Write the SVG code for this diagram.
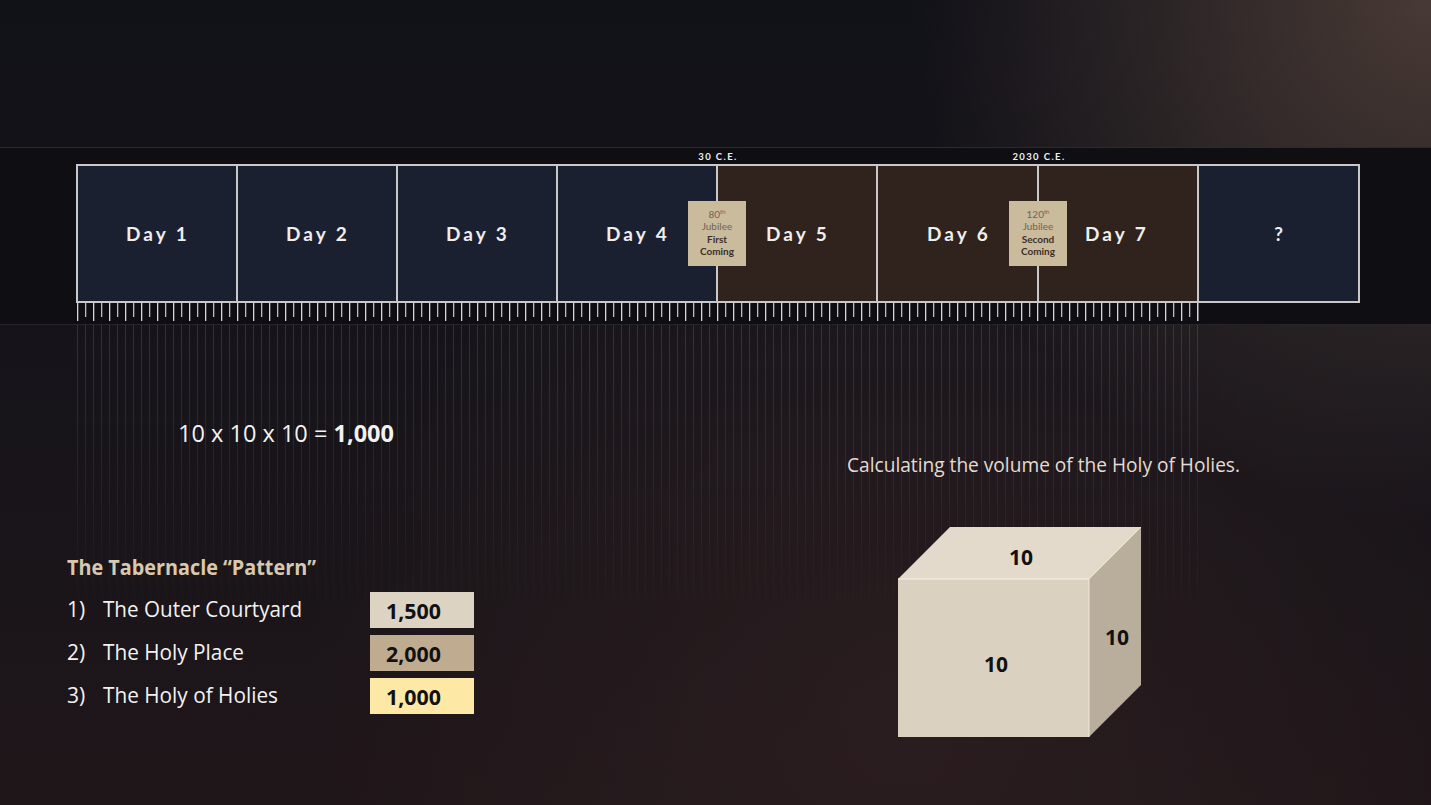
<svg xmlns="http://www.w3.org/2000/svg" width="1431" height="805" viewBox="0 0 1431 805">
<style>
.day{fill:#1b2030;stroke:#c9c9c9;stroke-width:2}
.dayb{fill:#30231d;stroke:#c9c9c9;stroke-width:2}
.dl{font-family:"Lato","Open Sans",sans-serif;font-weight:700;font-size:19px;letter-spacing:3px;fill:#eeeeee;text-anchor:middle}
.ce{font-family:"Lato","Open Sans",sans-serif;font-weight:700;font-size:9.5px;letter-spacing:1.4px;fill:#f0f0f0;text-anchor:middle}
.jb{fill:#cbbb9d}
.jt{font-family:"Lato","Open Sans",sans-serif;font-size:10px;fill:#6e6456;text-anchor:middle}
.jtb{font-family:"Lato","Open Sans",sans-serif;font-weight:700;font-size:10px;fill:#3a3028;text-anchor:middle}
.t{font-family:"Open Sans","Liberation Sans",sans-serif;font-size:21px}
.w{fill:#f2f2f2}
.v{font-family:"Open Sans","Liberation Sans",sans-serif;font-weight:700;font-size:21px;fill:#111111}
.c{font-family:"Open Sans","Liberation Sans",sans-serif;font-weight:700;font-size:21px;fill:#111111;text-anchor:middle}
</style>
<defs>
<linearGradient id="bg" x1="0" y1="0" x2="0" y2="1">
<stop offset="0" stop-color="#111118"/>
<stop offset="0.45" stop-color="#16141a"/>
<stop offset="1" stop-color="#1f1619"/>
</linearGradient>
<radialGradient id="glow" cx="1431" cy="0" r="520" gradientUnits="userSpaceOnUse">
<stop offset="0" stop-color="#4e3e38" stop-opacity="0.9"/>
<stop offset="1" stop-color="#4e3e38" stop-opacity="0"/>
</radialGradient>
<radialGradient id="glow2" cx="900" cy="720" r="600" gradientUnits="userSpaceOnUse">
<stop offset="0" stop-color="#3a2626" stop-opacity="0.45"/>
<stop offset="1" stop-color="#3a2626" stop-opacity="0"/>
</radialGradient>
<pattern id="ticks" x="77" y="302" width="16" height="22" patternUnits="userSpaceOnUse">
<rect x="0" y="0" width="1.3" height="19" fill="#d6d6d6"/>
<rect x="8" y="0" width="1.3" height="15" fill="#bdbdbd"/>
</pattern>
<pattern id="stripes" x="77" y="0" width="8" height="10" patternUnits="userSpaceOnUse">
<rect x="0" y="0" width="1" height="10" fill="#9a9aa8"/>
</pattern>
<linearGradient id="fade" x1="0" y1="0" x2="0" y2="1">
<stop offset="0" stop-color="#fff" stop-opacity="0.22"/>
<stop offset="1" stop-color="#fff" stop-opacity="0"/>
</linearGradient>
<mask id="fm" maskUnits="userSpaceOnUse" x="0" y="0" width="1431" height="805">
<rect x="77" y="324" width="1122" height="300" fill="url(#fade)"/>
</mask>
</defs>
<rect width="1431" height="805" fill="url(#bg)"/>
<rect width="1431" height="805" fill="url(#glow)"/>
<rect width="1431" height="805" fill="url(#glow2)"/>
<rect x="77" y="324" width="1122" height="300" fill="url(#stripes)" mask="url(#fm)"/>
<!-- band -->
<rect x="0" y="147" width="1431" height="178" fill="#0f0f13"/>
<line x1="0" y1="147.5" x2="1431" y2="147.5" stroke="#2a2a30" stroke-width="1"/>
<line x1="0" y1="324.5" x2="1431" y2="324.5" stroke="#25252b" stroke-width="1"/>
<rect x="77" y="302" width="1122" height="21" fill="url(#ticks)"/>
<rect x="1197" y="302" width="1.3" height="19" fill="#d6d6d6"/>
<g id="day1"><rect class="day" x="77" y="165" width="160" height="137"/><text class="dl" x="158" y="241">Day 1</text></g>
<g id="day2"><rect class="day" x="237" y="165" width="160" height="137"/><text class="dl" x="318" y="241">Day 2</text></g>
<g id="day3"><rect class="day" x="397" y="165" width="160" height="137"/><text class="dl" x="478" y="241">Day 3</text></g>
<g id="day4"><rect class="day" x="557" y="165" width="160" height="137"/><text class="dl" x="638" y="241">Day 4</text></g>
<g id="day5"><rect class="dayb" x="717" y="165" width="160" height="137"/><text class="dl" x="798" y="241">Day 5</text></g>
<g id="day6"><rect class="dayb" x="877" y="165" width="161" height="137"/><text class="dl" x="959" y="241">Day 6</text></g>
<g id="day7"><rect class="dayb" x="1038" y="165" width="160" height="137"/><text class="dl" x="1117" y="241">Day 7</text></g>
<g id="day8"><rect class="day" x="1198" y="165" width="161" height="137"/><text class="dl" x="1280" y="241">?</text></g>
<g id="ce30"><text class="ce" x="718" y="160">30 C.E.</text></g>
<g id="ce2030"><text class="ce" x="1039" y="160">2030 C.E.</text></g>
<g id="jubilee80">
<rect class="jb" x="688" y="201" width="58" height="65"/>
<text class="jt" x="717" y="218">80<tspan font-size="6" dy="-4">th</tspan></text>
<text class="jt" x="717" y="230">Jubilee</text>
<text class="jtb" x="717" y="243">First</text>
<text class="jtb" x="717" y="255">Coming</text>
</g>
<g id="jubilee120">
<rect class="jb" x="1009" y="201" width="58" height="65"/>
<text class="jt" x="1038" y="218">120<tspan font-size="6" dy="-4">th</tspan></text>
<text class="jt" x="1038" y="230">Jubilee</text>
<text class="jtb" x="1038" y="243">Second</text>
<text class="jtb" x="1038" y="255">Coming</text>
</g>
<g id="equation"><text class="t w" x="178" y="442" style="font-size:23.5px" textLength="216" lengthAdjust="spacingAndGlyphs">10 x 10 x 10 = <tspan font-weight="700">1,000</tspan></text></g>
<g id="caption"><text class="t" x="847" y="472" style="font-size:19.5px;fill:#e4dcd4" textLength="393" lengthAdjust="spacingAndGlyphs">Calculating the volume of the Holy of Holies.</text></g>
<g id="list">
<text class="t" x="67" y="575" style="font-weight:700;fill:#d8c8ae" textLength="249" lengthAdjust="spacingAndGlyphs">The Tabernacle “Pattern”</text>
<text class="t w" x="67" y="617">1)</text><text class="t w" x="103" y="617" textLength="199" lengthAdjust="spacingAndGlyphs">The Outer Courtyard</text>
<text class="t w" x="67" y="660">2)</text><text class="t w" x="103" y="660" textLength="141" lengthAdjust="spacingAndGlyphs">The Holy Place</text>
<text class="t w" x="67" y="703">3)</text><text class="t w" x="103" y="703" textLength="175" lengthAdjust="spacingAndGlyphs">The Holy of Holies</text>
</g>
<g id="v1500"><rect x="370" y="592" width="104" height="36" fill="#ddd3c3"/><text class="v" x="386" y="619" textLength="55" lengthAdjust="spacingAndGlyphs">1,500</text></g>
<g id="v2000"><rect x="370" y="635" width="104" height="36" fill="#bfac90"/><text class="v" x="386" y="662" textLength="55" lengthAdjust="spacingAndGlyphs">2,000</text></g>
<g id="v1000"><rect x="370" y="678" width="104" height="36" fill="#fde8a6"/><text class="v" x="386" y="705" textLength="55" lengthAdjust="spacingAndGlyphs">1,000</text></g>
<g id="cube">
<polygon points="898,579 950,527 1141,527 1089,579" fill="#e3dacb"/>
<polygon points="1089,579 1141,527 1141,685 1089,737" fill="#b9ae9c"/>
<rect x="898" y="579" width="191" height="158" fill="#dbd1c0"/>
<line x1="898" y1="579" x2="1089" y2="579" stroke="#efe8dc" stroke-width="1.5"/>
<line x1="1089" y1="579" x2="1089" y2="737" stroke="#efe8dc" stroke-width="1"/>
<line x1="1089" y1="579" x2="1141" y2="527" stroke="#efe8dc" stroke-width="1"/>
<text class="c" x="1021" y="565">10</text>
<text class="c" x="996" y="672">10</text>
<text class="c" x="1117" y="645">10</text>
</g>
</svg>
